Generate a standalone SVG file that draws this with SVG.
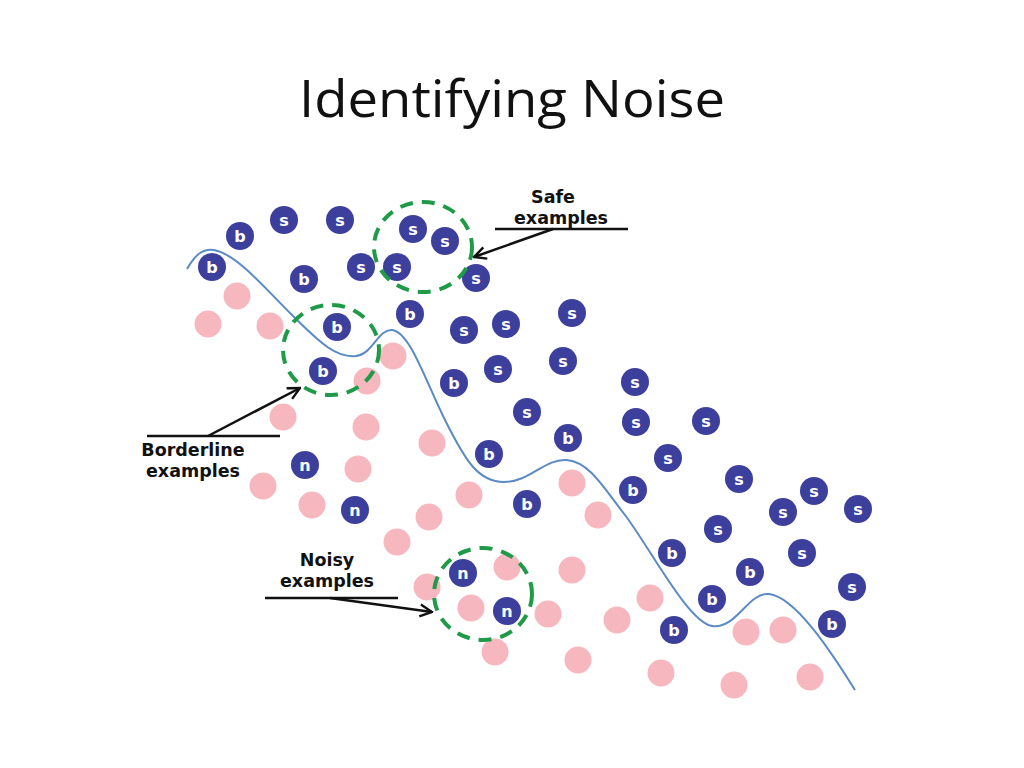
<svg xmlns="http://www.w3.org/2000/svg" width="1024" height="768" viewBox="0 0 1024 768">
<defs>
<style>
.d{fill:#3d3f9c}
.p{fill:#f6b7bf}
.l{fill:#fff;font-family:"DejaVu Sans",sans-serif;font-weight:bold;font-size:16px;text-anchor:middle}
.g{fill:none;stroke:#1f9a49;stroke-width:4;stroke-dasharray:13 9}
.lab{fill:#111;font-family:"DejaVu Sans",sans-serif;font-weight:bold;font-size:17.5px;text-anchor:middle}
.ln{stroke:#111;stroke-width:2.5;fill:none}
</style>
<marker id="ah" viewBox="0 0 10 10" refX="9" refY="5" markerWidth="6" markerHeight="6" orient="auto" markerUnits="strokeWidth">
<path d="M1,1 L9,5 L1,9" fill="none" stroke="#111" stroke-width="1.6"/>
</marker>
</defs>
<rect width="1024" height="768" fill="#fff"/>
<text x="512" y="117" font-family="'Open Sans','Liberation Sans',sans-serif" font-size="52" fill="#111" text-anchor="middle" textLength="426" lengthAdjust="spacingAndGlyphs">Identifying Noise</text>

<g id="pink">
<circle class="p" cx="237" cy="296" r="13.5"/>
<circle class="p" cx="208" cy="324" r="13.5"/>
<circle class="p" cx="270" cy="326" r="13.5"/>
<circle class="p" cx="393" cy="356" r="13.5"/>
<circle class="p" cx="367" cy="381" r="13.5"/>
<circle class="p" cx="283" cy="417" r="13.5"/>
<circle class="p" cx="366" cy="427" r="13.5"/>
<circle class="p" cx="432" cy="443" r="13.5"/>
<circle class="p" cx="358" cy="469" r="13.5"/>
<circle class="p" cx="263" cy="486" r="13.5"/>
<circle class="p" cx="312" cy="505" r="13.5"/>
<circle class="p" cx="469" cy="495" r="13.5"/>
<circle class="p" cx="429" cy="517" r="13.5"/>
<circle class="p" cx="397" cy="542" r="13.5"/>
<circle class="p" cx="572" cy="483" r="13.5"/>
<circle class="p" cx="598" cy="515" r="13.5"/>
<circle class="p" cx="507" cy="567" r="13.5"/>
<circle class="p" cx="572" cy="570" r="13.5"/>
<circle class="p" cx="427" cy="587" r="13.5"/>
<circle class="p" cx="471" cy="608" r="13.5"/>
<circle class="p" cx="548" cy="614" r="13.5"/>
<circle class="p" cx="617" cy="620" r="13.5"/>
<circle class="p" cx="650" cy="598" r="13.5"/>
<circle class="p" cx="495" cy="652" r="13.5"/>
<circle class="p" cx="578" cy="660" r="13.5"/>
<circle class="p" cx="661" cy="673" r="13.5"/>
<circle class="p" cx="734" cy="685" r="13.5"/>
<circle class="p" cx="810" cy="677" r="13.5"/>
<circle class="p" cx="746" cy="632" r="13.5"/>
<circle class="p" cx="783" cy="630" r="13.5"/>
</g>

<g id="boundary">
<path d="M187,269 C195,255 203,248 214,250 C236,254 262,285 292,315 C322,345 337,358 356,356 C373,354 378,329 392,330 C410,332 425,380 445,420 C465,460 478,482 504,482 C530,482 545,458 567,460 C590,462 605,490 625,515 C650,548 688,622 712,626 C736,630 748,592 769,594 C795,597 830,650 855,690" fill="none" stroke="#5b8ac4" stroke-width="2"/>
</g>

<g id="dark">
<g><circle class="d" cx="240" cy="236" r="14"/><text class="l" x="240" y="241.5">b</text></g>
<g><circle class="d" cx="284" cy="220" r="14"/><text class="l" x="284" y="225.5">s</text></g>
<g><circle class="d" cx="340" cy="220" r="14"/><text class="l" x="340" y="225.5">s</text></g>
<g><circle class="d" cx="413" cy="229" r="14"/><text class="l" x="413" y="234.5">s</text></g>
<g><circle class="d" cx="445" cy="241" r="14"/><text class="l" x="445" y="246.5">s</text></g>
<g><circle class="d" cx="212" cy="267" r="14"/><text class="l" x="212" y="272.5">b</text></g>
<g><circle class="d" cx="304" cy="279" r="14"/><text class="l" x="304" y="284.5">b</text></g>
<g><circle class="d" cx="361" cy="267" r="14"/><text class="l" x="361" y="272.5">s</text></g>
<g><circle class="d" cx="397" cy="267" r="14"/><text class="l" x="397" y="272.5">s</text></g>
<g><circle class="d" cx="476" cy="278" r="14"/><text class="l" x="476" y="283.5">s</text></g>
<g><circle class="d" cx="337" cy="327" r="14"/><text class="l" x="337" y="332.5">b</text></g>
<g><circle class="d" cx="410" cy="314" r="14"/><text class="l" x="410" y="319.5">b</text></g>
<g><circle class="d" cx="464" cy="330" r="14"/><text class="l" x="464" y="335.5">s</text></g>
<g><circle class="d" cx="506" cy="324" r="14"/><text class="l" x="506" y="329.5">s</text></g>
<g><circle class="d" cx="572" cy="313" r="14"/><text class="l" x="572" y="318.5">s</text></g>
<g><circle class="d" cx="323" cy="371" r="14"/><text class="l" x="323" y="376.5">b</text></g>
<g><circle class="d" cx="498" cy="369" r="14"/><text class="l" x="498" y="374.5">s</text></g>
<g><circle class="d" cx="563" cy="361" r="14"/><text class="l" x="563" y="366.5">s</text></g>
<g><circle class="d" cx="454" cy="383" r="14"/><text class="l" x="454" y="388.5">b</text></g>
<g><circle class="d" cx="635" cy="382" r="14"/><text class="l" x="635" y="387.5">s</text></g>
<g><circle class="d" cx="527" cy="412" r="14"/><text class="l" x="527" y="417.5">s</text></g>
<g><circle class="d" cx="568" cy="438" r="14"/><text class="l" x="568" y="443.5">b</text></g>
<g><circle class="d" cx="636" cy="422" r="14"/><text class="l" x="636" y="427.5">s</text></g>
<g><circle class="d" cx="706" cy="421" r="14"/><text class="l" x="706" y="426.5">s</text></g>
<g><circle class="d" cx="489" cy="454" r="14"/><text class="l" x="489" y="459.5">b</text></g>
<g><circle class="d" cx="668" cy="458" r="14"/><text class="l" x="668" y="463.5">s</text></g>
<g><circle class="d" cx="633" cy="490" r="14"/><text class="l" x="633" y="495.5">b</text></g>
<g><circle class="d" cx="739" cy="479" r="14"/><text class="l" x="739" y="484.5">s</text></g>
<g><circle class="d" cx="527" cy="504" r="14"/><text class="l" x="527" y="509.5">b</text></g>
<g><circle class="d" cx="814" cy="491" r="14"/><text class="l" x="814" y="496.5">s</text></g>
<g><circle class="d" cx="783" cy="512" r="14"/><text class="l" x="783" y="517.5">s</text></g>
<g><circle class="d" cx="858" cy="509" r="14"/><text class="l" x="858" y="514.5">s</text></g>
<g><circle class="d" cx="718" cy="529" r="14"/><text class="l" x="718" y="534.5">s</text></g>
<g><circle class="d" cx="305" cy="465" r="14"/><text class="l" x="305" y="470.5">n</text></g>
<g><circle class="d" cx="355" cy="510" r="14"/><text class="l" x="355" y="515.5">n</text></g>
<g><circle class="d" cx="672" cy="553" r="14"/><text class="l" x="672" y="558.5">b</text></g>
<g><circle class="d" cx="750" cy="572" r="14"/><text class="l" x="750" y="577.5">b</text></g>
<g><circle class="d" cx="802" cy="553" r="14"/><text class="l" x="802" y="558.5">s</text></g>
<g><circle class="d" cx="852" cy="587" r="14"/><text class="l" x="852" y="592.5">s</text></g>
<g><circle class="d" cx="712" cy="599" r="14"/><text class="l" x="712" y="604.5">b</text></g>
<g><circle class="d" cx="674" cy="630" r="14"/><text class="l" x="674" y="635.5">b</text></g>
<g><circle class="d" cx="832" cy="624" r="14"/><text class="l" x="832" y="629.5">b</text></g>
<g><circle class="d" cx="463" cy="573" r="14"/><text class="l" x="463" y="578.5">n</text></g>
<g><circle class="d" cx="507" cy="611" r="14"/><text class="l" x="507" y="616.5">n</text></g>
</g>

<g id="safe-group"><ellipse class="g" cx="423" cy="247" rx="49" ry="45"/></g>
<g id="borderline-group"><ellipse class="g" cx="331" cy="350" rx="48" ry="45"/></g>
<g id="noisy-group"><ellipse class="g" cx="483" cy="594" rx="49" ry="46"/></g>

<g id="label-safe">
<text class="lab" x="553" y="203">Safe</text>
<text class="lab" x="561" y="224">examples</text>
</g>
<g id="label-borderline">
<text class="lab" x="193" y="456">Borderline</text>
<text class="lab" x="193" y="477">examples</text>
</g>
<g id="label-noisy">
<text class="lab" x="327" y="566">Noisy</text>
<text class="lab" x="327" y="587">examples</text>
</g>

<g id="connectors">
<line class="ln" x1="495" y1="229" x2="628" y2="229"/>
<line class="ln" x1="553" y1="229" x2="474" y2="257" marker-end="url(#ah)"/>
<line class="ln" x1="147" y1="436" x2="280" y2="436"/>
<line class="ln" x1="208" y1="436" x2="300" y2="388" marker-end="url(#ah)"/>
<line class="ln" x1="265" y1="598" x2="398" y2="598"/>
<line class="ln" x1="330" y1="598" x2="432" y2="612" marker-end="url(#ah)"/>
</g>
</svg>
